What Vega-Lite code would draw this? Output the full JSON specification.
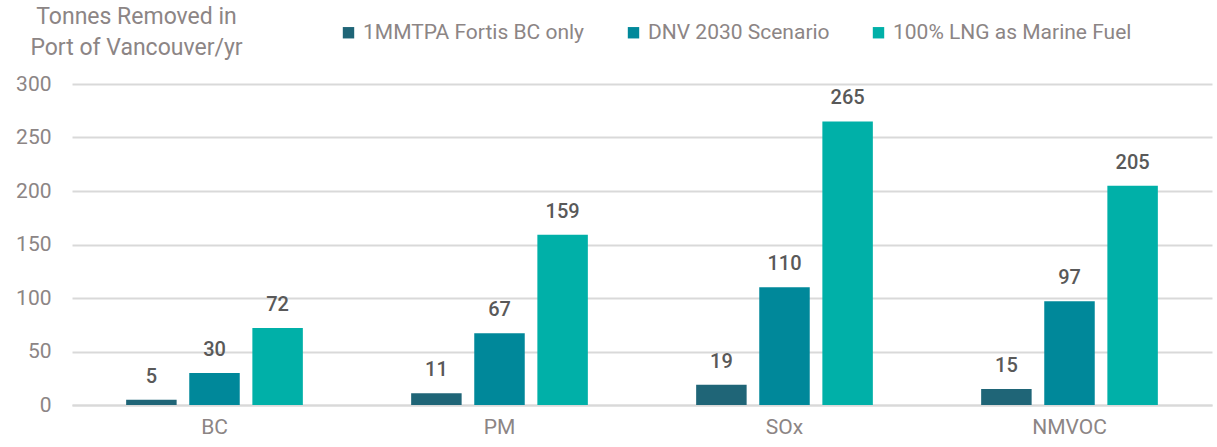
{
  "$schema": "https://vega.github.io/schema/vega-lite/v6.json",
  "autosize": "none",
  "width": 1140,
  "height": 321,
  "padding": {"left": 72, "top": 84, "right": 5, "bottom": 42},
  "background": "white",
  "config": {
    "view": {"stroke": null},
    "font": "Roboto",
    "axis": {"labelFont": "Roboto", "titleFont": "Roboto"},
    "legend": {"labelFont": "Roboto"}
  },
  "data": {
    "values": [
      {"pollutant": "BC", "scenario": "1MMTPA Fortis BC only", "value": 5},
      {"pollutant": "BC", "scenario": "DNV 2030 Scenario", "value": 30},
      {"pollutant": "BC", "scenario": "100% LNG as Marine Fuel", "value": 72},
      {"pollutant": "PM", "scenario": "1MMTPA Fortis BC only", "value": 11},
      {"pollutant": "PM", "scenario": "DNV 2030 Scenario", "value": 67},
      {"pollutant": "PM", "scenario": "100% LNG as Marine Fuel", "value": 159},
      {"pollutant": "SOx", "scenario": "1MMTPA Fortis BC only", "value": 19},
      {"pollutant": "SOx", "scenario": "DNV 2030 Scenario", "value": 110},
      {"pollutant": "SOx", "scenario": "100% LNG as Marine Fuel", "value": 265},
      {"pollutant": "NMVOC", "scenario": "1MMTPA Fortis BC only", "value": 15},
      {"pollutant": "NMVOC", "scenario": "DNV 2030 Scenario", "value": 97},
      {"pollutant": "NMVOC", "scenario": "100% LNG as Marine Fuel", "value": 205}
    ]
  },
  "encoding": {
    "x": {
      "field": "pollutant",
      "type": "nominal",
      "sort": ["BC", "PM", "SOx", "NMVOC"],
      "scale": {"paddingInner": 0.38, "paddingOuter": 0.19},
      "axis": {
        "title": null,
        "labelAngle": 0,
        "labelFontSize": 21,
        "labelColor": "#8c8585",
        "labelPadding": 11,
        "ticks": false,
        "domain": true,
        "domainColor": "#d9d9d9",
        "domainWidth": 2
      }
    },
    "xOffset": {
      "field": "scenario",
      "type": "nominal",
      "sort": ["1MMTPA Fortis BC only", "DNV 2030 Scenario", "100% LNG as Marine Fuel"],
      "scale": {"paddingInner": 0.2}
    },
    "y": {
      "field": "value",
      "type": "quantitative",
      "scale": {"domain": [0, 300]},
      "axis": {
        "values": [0, 50, 100, 150, 200, 250, 300],
        "title": ["Tonnes Removed in", "Port of Vancouver/yr"],
        "titleAngle": 0,
        "titleAlign": "center",
        "titleBaseline": "top",
        "titleX": 64,
        "titleY": -79,
        "titleFontSize": 23,
        "titleFontWeight": "normal",
        "titleColor": "#8c8585",
        "titleLineHeight": 31,
        "labelFontSize": 21,
        "labelColor": "#8c8585",
        "labelPadding": 21,
        "ticks": false,
        "domain": false,
        "grid": true,
        "gridColor": "#d9d9d9",
        "gridWidth": 2
      }
    }
  },
  "layer": [
    {
      "mark": {"type": "bar"},
      "encoding": {
        "color": {
          "field": "scenario",
          "type": "nominal",
          "sort": ["1MMTPA Fortis BC only", "DNV 2030 Scenario", "100% LNG as Marine Fuel"],
          "scale": {
            "domain": ["1MMTPA Fortis BC only", "DNV 2030 Scenario", "100% LNG as Marine Fuel"],
            "range": ["#1f6577", "#00889a", "#00b0a8"]
          },
          "legend": {
            "title": null,
            "orient": "none",
            "direction": "horizontal",
            "legendX": 266,
            "legendY": -62,
            "symbolType": "square",
            "symbolSize": 130,
            "symbolStrokeWidth": 0,
            "labelFontSize": 21,
            "labelColor": "#8c8585",
            "labelOffset": 4,
            "columnPadding": 38,
            "labelLimit": 400
          }
        }
      }
    },
    {
      "mark": {"type": "text", "dy": -13, "fontSize": 20, "fontWeight": 500, "color": "#595959", "baseline": "bottom"},
      "encoding": {
        "text": {"field": "value", "type": "quantitative"}
      }
    }
  ]
}
